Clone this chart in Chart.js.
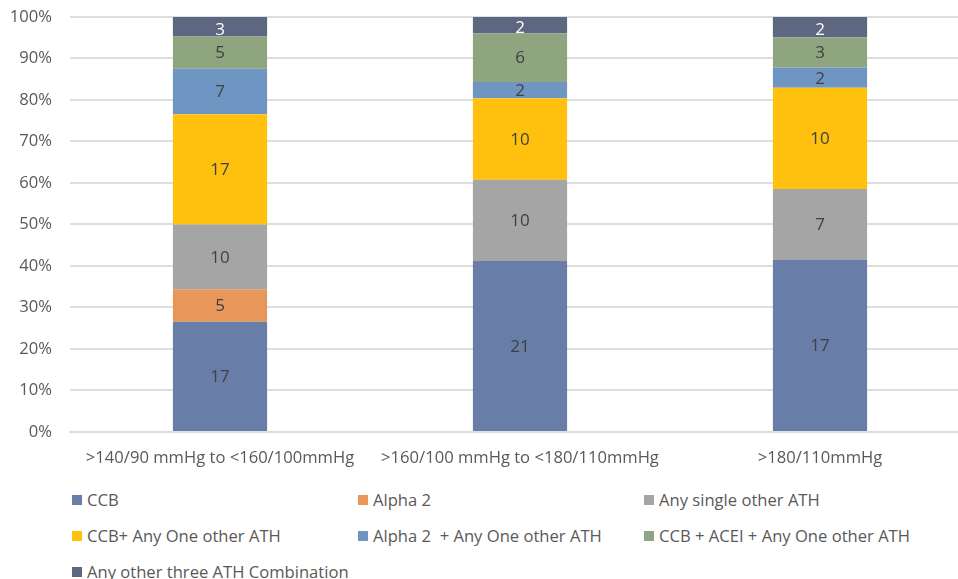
<!DOCTYPE html>
<html>
<head>
<meta charset="utf-8">
<script src="https://cdn.jsdelivr.net/npm/chart.js@4"></script>
<style>
  html, body { margin: 0; padding: 0; background: #fff; overflow: hidden; width: 958px; height: 579px; }
  #wrap { position: absolute; left: 0; top: -11px; width: 970px; height: 494px; }
  #legend { position: absolute; left: 72px; top: 489px; width: 900px; font-family: "Open Sans", sans-serif; font-size: 16.6px; color: #595959; }
  .item { position: absolute; white-space: pre; line-height: 22px; }
  .sw { display: inline-block; width: 10px; height: 10px; margin-right: 5px; vertical-align: 1px; }
</style>
</head>
<body>
<div id="wrap"><canvas id="c"></canvas></div>
<div id="legend"></div>
<script>
const categories = [">140/90 mmHg to <160/100mmHg", ">160/100 mmHg to <180/110mmHg", ">180/110mmHg"];
const seriesNames = ["CCB", "Alpha 2", "Any single other ATH", "CCB+ Any One other ATH", "Alpha 2  + Any One other ATH", "CCB + ACEI + Any One other ATH", "Any other three ATH Combination"];
const ccb = [17, 21, 17];
const alpha2 = [5, 0, 0];
const anySingle = [10, 10, 7];
const ccbPlusOne = [17, 10, 10];
const alpha2PlusOne = [7, 2, 2];
const ccbAceiPlusOne = [5, 6, 3];
const anyThree = [3, 2, 2];
const yTicks = [0, 10, 20, 30, 40, 50, 60, 70, 80, 90, 100];
const colors = ["#687ea9", "#e8975a", "#a5a5a5", "#ffc10e", "#6f95c3", "#8fa580", "#5e6780"];

const counts = [ccb, alpha2, anySingle, ccbPlusOne, alpha2PlusOne, ccbAceiPlusOne, anyThree];
const totals = categories.map((_, i) => counts.reduce((s, arr) => s + arr[i], 0));

const datasets = counts.map((arr, k) => ({
  label: seriesNames[k],
  data: arr.map((v, i) => v / totals[i] * 100),
  raw: arr,
  backgroundColor: colors[k],
  borderWidth: 0,
  categoryPercentage: 1,
  barPercentage: 0.314
}));

const FONT = '"Open Sans", sans-serif';

const labelPlugin = {
  id: 'segLabels',
  afterDatasetsDraw(chart) {
    const ctx = chart.ctx;
    ctx.save();
    ctx.font = '17px ' + FONT;
    ctx.textAlign = 'center';
    ctx.textBaseline = 'middle';
    chart.data.datasets.forEach((ds, k) => {
      const meta = chart.getDatasetMeta(k);
      meta.data.forEach((bar, i) => {
        const v = ds.raw[i];
        if (!v) return;
        const y = (bar.y + bar.base) / 2;
        ctx.fillStyle = k === 6 ? '#ffffff' : '#404040';
        ctx.fillText(String(v), bar.x, y + (k === 6 ? 3 : 1));
      });
    });
    ctx.restore();
  }
};

new Chart(document.getElementById('c'), {
  type: 'bar',
  data: { labels: categories, datasets },
  options: {
    responsive: true,
    maintainAspectRatio: false,
    animation: false,
    layout: { padding: { left: 0, top: 8, right: 0, bottom: 0 } },
    plugins: { legend: { display: false }, tooltip: { enabled: false } },
    scales: {
      x: {
        stacked: true,
        grid: { display: false, drawTicks: false },
        border: { display: true, color: '#dedede', width: 2 },
        afterFit(axis) { axis.height = 51; },
        ticks: { color: '#595959', font: { family: FONT, size: 16.6 }, padding: 16, maxRotation: 0 }
      },
      y: {
        stacked: true,
        min: 0, max: 100,
        afterBuildTicks(axis) { axis.ticks = yTicks.map(v => ({ value: v })); },
        afterFit(axis) { axis.width = 70; },
        grid: { color: '#dedede', lineWidth: 2, drawTicks: false },
        border: { display: false },
        ticks: { color: '#595959', font: { family: FONT, size: 16.6 }, padding: 18, callback: v => v + '%' }
      }
    }
  },
  plugins: [labelPlugin]
});

const legend = document.getElementById('legend');
seriesNames.forEach((name, k) => {
  const d = document.createElement('div');
  d.className = 'item';
  d.style.left = (k % 3) * 286 + 'px';
  d.style.top = Math.floor(k / 3) * 36 + 'px';
  d.innerHTML = '<span class="sw" style="background:' + colors[k] + '"></span>';
  d.appendChild(document.createTextNode(name));
  legend.appendChild(d);
});
</script>
</body>
</html>
